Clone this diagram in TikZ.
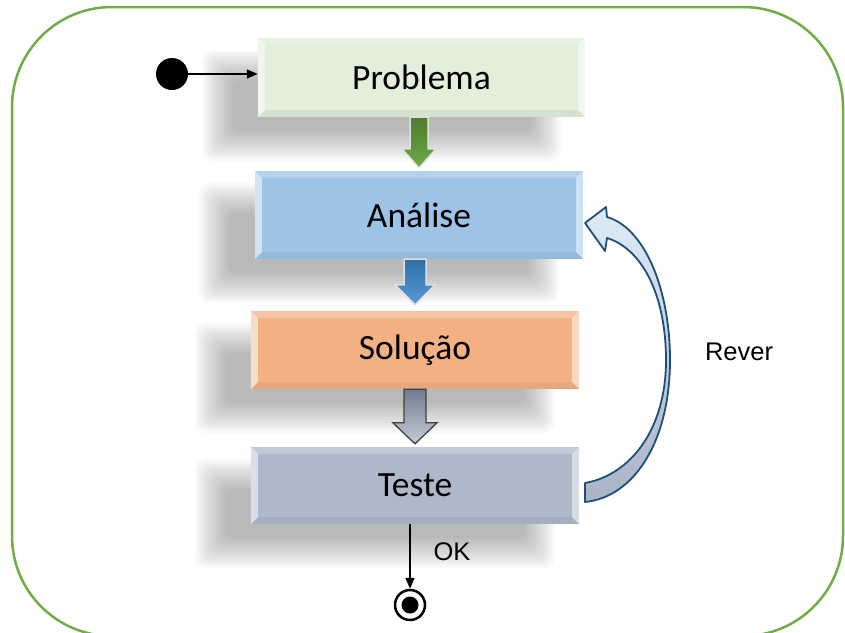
\documentclass[tikz,border=0pt]{standalone}
\usepackage{fontspec}
\newfontfamily\carlito{Carlito}
\newfontfamily\arialf{Liberation Sans}
\usetikzlibrary{calc,backgrounds,arrows.meta}
\definecolor{probc}{HTML}{E2EFDA}
\definecolor{anac}{HTML}{9DC3E6}
\definecolor{solc}{HTML}{F4B183}
\definecolor{testc}{HTML}{ADB9CA}
\definecolor{borderc}{HTML}{70AD47}
\definecolor{gtop}{HTML}{4E7A30}
\definecolor{gbot}{HTML}{6EAA45}
\definecolor{btop}{HTML}{2E6DA8}
\definecolor{bbot}{HTML}{5B9BD5}
\definecolor{grtop}{HTML}{6F7C8F}
\definecolor{grbot}{HTML}{C5CCD6}
\definecolor{grline}{HTML}{404040}
\definecolor{revtop}{HTML}{DDEBF7}
\definecolor{revbot}{HTML}{A9B5C6}
\definecolor{revline}{HTML}{1F4E79}
\newcommand\bevelbox[1]{%
 \fill[white,opacity=.55] (#1.north west) -- ($(#1.north west)+(7pt,-7pt)$) -- ($(#1.south west)+(7pt,7pt)$) -- (#1.south west) -- cycle;
 \fill[white,opacity=.5] (#1.north east) -- ($(#1.north east)+(-7pt,-7pt)$) -- ($(#1.south east)+(-7pt,7pt)$) -- (#1.south east) -- cycle;
 \fill[white,opacity=.25] (#1.north west) -- (#1.north east) -- ($(#1.north east)+(-7pt,-7pt)$) -- ($(#1.north west)+(7pt,-7pt)$) -- cycle;
 \fill[black,opacity=.05] (#1.south west) -- (#1.south east) -- ($(#1.south east)+(-7pt,7pt)$) -- ($(#1.south west)+(7pt,7pt)$) -- cycle;
}
\begin{document}
\begin{tikzpicture}[x=1pt,y=-1pt,
  box/.style={minimum width=328pt, inner sep=0pt, font=\carlito\fontsize{35.5}{40}\selectfont},
  lbl/.style={font=\arialf\fontsize{25.5}{30}\selectfont, inner sep=0pt},
  conn/.style={line width=1.3pt, -{Triangle[length=11pt,width=9pt]}}]
\useasboundingbox (0,0) rectangle (845,632);
% outer state border
\draw[draw=borderc, line width=2.5pt, rounded corners=100pt] (12,7) rectangle (843,636);
% boxes
\node[box, fill=probc, minimum width=327pt, minimum height=79pt] (prob) at (421.5,77.5) {Problema};
\node[box, fill=anac, minimum height=88pt] (ana) at (419,215) {Análise};
\node[box, fill=solc, minimum height=78pt] (sol) at (415,350) {Solução};
\node[box, fill=testc, minimum height=77pt] (test) at (415,485.5) {Teste};
\bevelbox{prob}\bevelbox{ana}\bevelbox{sol}\bevelbox{test}
% soft shadows
\begin{scope}[on background layer]
 \foreach \n in {prob,ana,sol,test} {
  \foreach \r in {0,2,...,30} {
   \fill[black,opacity=.02,rounded corners=10pt] ($(\n.north west)+(-26pt-\r pt,-42pt+\r pt)$) rectangle ($(\n.south east)+(-54pt+\r pt,-14pt-\r pt)$);
  }
 }
\end{scope}
% block arrows
\shade[top color=gtop, bottom color=gbot, draw=black!12, line width=1.5pt]
 ($(prob.south -| ana.north)+(-9pt,0)$) -- ($(prob.south -| ana.north)+(9pt,0)$) -- ($(ana.north)+(9pt,22pt)$) -- ($(ana.north)+(17pt,22pt)$) -- ($(ana.north)+(0,3pt)$) -- ($(ana.north)+(-17pt,22pt)$) -- ($(ana.north)+(-9pt,22pt)$) -- cycle;
\shade[top color=btop, bottom color=bbot, draw=black!12, line width=1.5pt]
 ($(ana.south -| sol.north)+(-11pt,0)$) -- ($(ana.south -| sol.north)+(11pt,0)$) -- ($(sol.north)+(11pt,26pt)$) -- ($(sol.north)+(20pt,26pt)$) -- ($(sol.north)+(0,6pt)$) -- ($(sol.north)+(-20pt,26pt)$) -- ($(sol.north)+(-11pt,26pt)$) -- cycle;
\shade[top color=grtop, bottom color=grbot, draw=grline, line width=1.3pt]
 ($(sol.south -| test.north)+(-11pt,0)$) -- ($(sol.south -| test.north)+(11pt,0)$) -- ($(test.north)+(11pt,24pt)$) -- ($(test.north)+(22pt,24pt)$) -- ($(test.north)+(0,3pt)$) -- ($(test.north)+(-22pt,24pt)$) -- ($(test.north)+(-11pt,24pt)$) -- cycle;
% curved "Rever" arrow
\shade[top color=revtop, bottom color=revbot, draw=revline, line width=1.8pt, line join=round]
 (585,483) .. controls (630,475) and (666,430) .. (666,360)
 .. controls (666,300) and (645,250) .. (607,238)
 -- (605,251) -- (585,223) -- (606,207) -- (607,217)
 .. controls (645,228) and (670,290) .. (670,360)
 .. controls (670,440) and (635,497) .. (585,502) -- cycle;
\node[lbl] (rever) at (739,352) {Rever};
% initial and final states
\node[circle, fill=black, minimum size=32pt, inner sep=0pt] (start) at (172,74) {};
\draw[conn] (start.east) -- (start.east -| prob.west);
\node[circle, draw=black, line width=2.5pt, minimum size=30pt, inner sep=0pt] (end) at (410,605) {};
\fill[black] (end.center) circle[radius=8.5pt];
\draw[conn] (test.south -| end) -- (end.north);
\node[lbl] (ok) at (452,552) {OK};
\end{tikzpicture}
\end{document}
